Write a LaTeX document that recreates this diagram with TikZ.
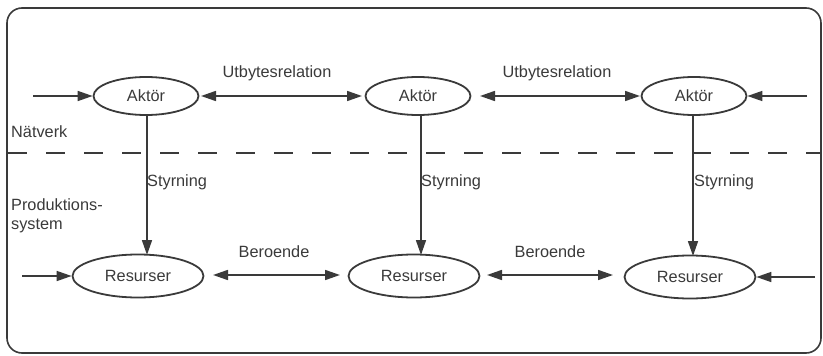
\documentclass[tikz,border=0pt]{standalone}
\usepackage{fontspec}
\setmainfont{Liberation Sans}
\usetikzlibrary{shapes.geometric,arrows.meta}
\definecolor{ink}{HTML}{3A3A3A}
\begin{document}
\begin{tikzpicture}[x=1pt,y=-1pt,
  every node/.style={text=ink,font=\fontsize{16.3}{19.5}\selectfont},
  actor/.style={ellipse,draw=ink,line width=1.8pt,minimum width=105pt,minimum height=38pt,inner sep=0pt},
  resource/.style={ellipse,draw=ink,line width=1.8pt,minimum width=131pt,minimum height=43pt,inner sep=0pt},
  head/.style={Triangle[length=15pt,width=10pt]},
  flow/.style={draw=ink,line width=1.7pt,-{Triangle[length=15pt,width=10pt]}},
  mutual/.style={draw=ink,line width=1.7pt,{Triangle[length=15pt,width=10pt]}-{Triangle[length=15pt,width=10pt]}},
  lbl/.style={inner sep=0pt}
]
\useasboundingbox (0,0) rectangle (823,356);
% outer frame
\draw[ink,line width=1.6pt,rounded corners=15pt] (7,8) rectangle (821,353);
% boundary between network and production system
\draw[ink,line width=1.6pt,dash pattern=on 19pt off 19pt] (8,153) -- (821,153);

% actors
\node[actor] (A1) at (146,96) {Aktör};
\node[actor] (A2) at (418,96) {Aktör};
\node[actor] (A3) at (694,96) {Aktör};
% resources
\node[resource] (R1) at (138,276) {Resurser};
\node[resource] (R2) at (414,276) {Resurser};
\node[resource] (R3) at (690,277) {Resurser};

% exchange relations between actors
\draw[mutual] (201,96) -- (362,96);
\draw[mutual] (480,96) -- (640,96);
\coordinate (inA) at (33,96);
\coordinate (inC) at (807,96);
\draw[flow] (inA) -- (A1);
\draw[flow] (inC) -- (A3);

% dependencies between resources
\draw[mutual] (213,275) -- (340,275);
\draw[mutual] (487,275) -- (613,275);
\coordinate (inR1) at (22,276);
\coordinate (inR3) at (815,277);
\draw[flow] (inR1) -- (R1);
\draw[flow] (inR3) -- (R3);

% control from actors to resources
\coordinate (s1) at (147,115);
\coordinate (s2) at (421,115);
\coordinate (s3) at (693,115);
\draw[flow] (s1) -- (147,255);
\draw[flow] (s2) -- (421,255);
\draw[flow] (s3) -- (693,256);

% labels
\node[lbl] (u1) at (277,73) {Utbytesrelation};
\node[lbl] (u2) at (557,73) {Utbytesrelation};
\node[lbl,anchor=west] (nv) at (11,132) {Nätverk};
\node[lbl,anchor=west] (st1) at (147,182) {Styrning};
\node[lbl,anchor=west] (st2) at (421,182) {Styrning};
\node[lbl,anchor=west] (st3) at (694,182) {Styrning};
\node[lbl,anchor=north west,align=left] (ps) at (11,198) {Produktions-\\system};
\node[lbl] (b1) at (274,252) {Beroende};
\node[lbl] (b2) at (550,252) {Beroende};
\end{tikzpicture}
\end{document}
